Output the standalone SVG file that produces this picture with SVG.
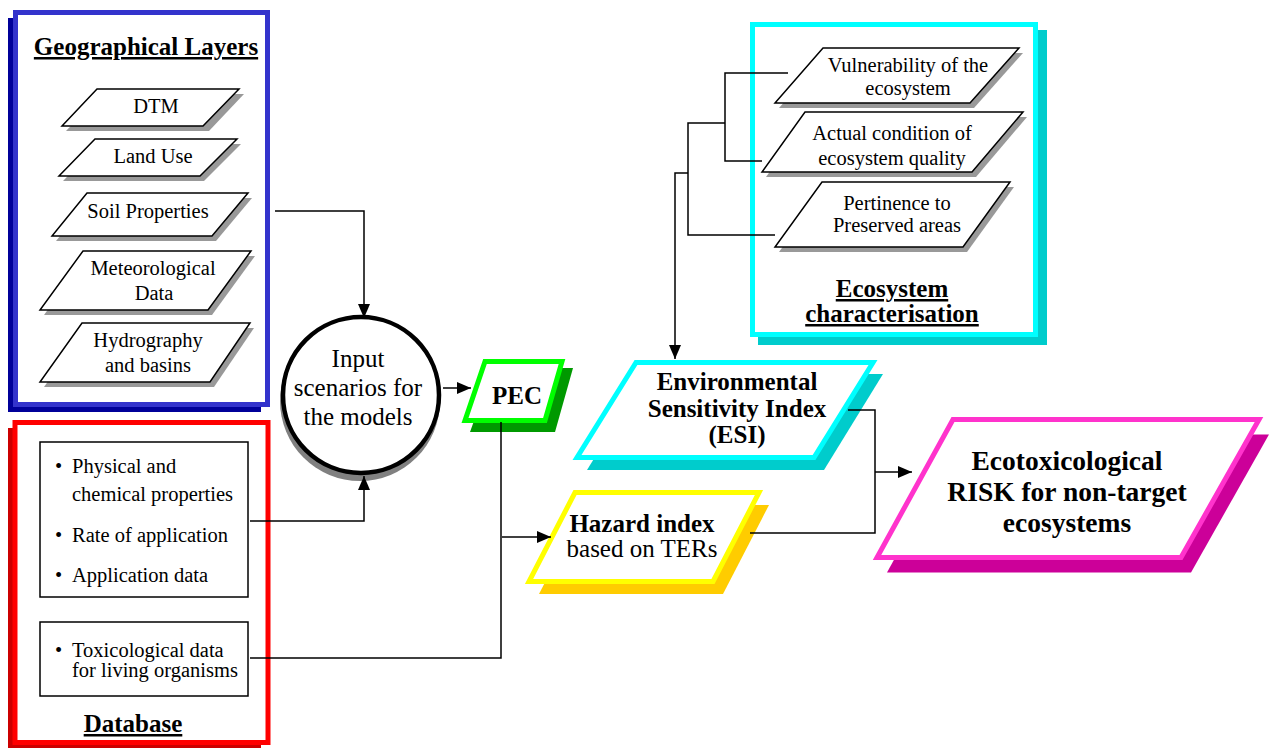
<svg xmlns="http://www.w3.org/2000/svg" width="1278" height="749" viewBox="0 0 1278 749">
<style>
.t{font-family:"Liberation Serif","Tinos","Times New Roman","DejaVu Serif",serif;fill:#000;text-anchor:middle}
.r{font-size:20.5px}
.b{font-weight:bold;font-size:25px}
.u{text-decoration:underline}
.thin{fill:#fff;stroke:#000;stroke-width:1.5}
.sh{fill:#999}
.ln{fill:none;stroke:#000;stroke-width:1.5}
</style>
<defs>
<marker id="ah" markerWidth="14" markerHeight="12" refX="14" refY="6" orient="auto" markerUnits="userSpaceOnUse"><path d="M0,0 L14,6 L0,12 z" fill="#000"/></marker>
</defs>
<rect width="1278" height="749" fill="#fff"/>

<g id="geo">
<rect x="8" y="18" width="253" height="394" fill="#000099"/>
<rect x="15.5" y="12.5" width="252" height="392" fill="#fff" stroke="#3333cc" stroke-width="5"/>
<text class="t b u" x="146" y="55">Geographical Layers</text>
<g id="dtm"><polygon class="sh" points="101,94 244,94 209,131 66,131"/><polygon class="thin" points="97,89 239,89 203,126 62,126"/><text class="t r" x="156" y="113">DTM</text></g>
<g id="landuse"><polygon class="sh" points="99,144 241,144 204,181 63,181"/><polygon class="thin" points="95,139 237,139 200,176 59,176"/><text class="t r" x="153" y="163">Land Use</text></g>
<g id="soil"><polygon class="sh" points="91,198 252,198 216,241 56,241"/><polygon class="thin" points="87,193 248,193 212,236 52,236"/><text class="t r" x="148" y="218">Soil Properties</text></g>
<g id="meteo"><polygon class="sh" points="87,256 255,256 212,315 44,315"/><polygon class="thin" points="83,251 251,251 208,310 40,310"/><text class="t r" x="153" y="275">Meteorological</text><text class="t r" x="154" y="300">Data</text></g>
<g id="hydro"><polygon class="sh" points="86,328 254,328 214,387 44,387"/><polygon class="thin" points="82,323 250,323 210,382 40,382"/><text class="t r" x="148" y="347">Hydrography</text><text class="t r" x="148" y="372">and basins</text></g>
</g>

<g id="database">
<rect x="8" y="428" width="253" height="320" fill="#cc0000"/>
<rect x="15" y="422.5" width="253" height="320" fill="#fff" stroke="#ff0000" stroke-width="5"/>
<rect x="40" y="442" width="208" height="155" fill="#fff" stroke="#000" stroke-width="1.5"/>
<g class="t r" style="text-anchor:start">
<text x="55" y="473">•</text><text x="72" y="473">Physical and</text>
<text x="72" y="501">chemical properties</text>
<text x="55" y="542">•</text><text x="72" y="542">Rate of application</text>
<text x="55" y="582">•</text><text x="72" y="582">Application data</text>
</g>
<rect x="40" y="622" width="208" height="74" fill="#fff" stroke="#000" stroke-width="1.5"/>
<g class="t r" style="text-anchor:start">
<text x="55" y="657">•</text><text x="72" y="657">Toxicological data</text>
<text x="72" y="677">for living organisms</text>
</g>
<text class="t b u" x="133" y="732">Database</text>
</g>

<g id="input">
<circle cx="360" cy="401" r="80" fill="#808080"/>
<circle cx="361" cy="395" r="78" fill="#fff" stroke="#000" stroke-width="4.5"/>
<text class="t" style="font-size:25px" x="358" y="367">Input</text>
<text class="t" style="font-size:25px" x="358" y="396">scenarios for</text>
<text class="t" style="font-size:25px" x="358" y="425">the models</text>
</g>

<g id="pec">
<polygon points="493,368 573,368 555,432 470,432" fill="#009900"/>
<polygon points="485,361.5 562,361.5 545,420.5 465,420.5" fill="#fff" stroke="#00ff00" stroke-width="5"/>
<text class="t b" x="517" y="404">PEC</text>
</g>

<g id="eco">
<rect x="758" y="30" width="289" height="315" fill="#00cccc"/>
<rect x="752.5" y="24.5" width="283" height="310" fill="#fff" stroke="#00ffff" stroke-width="5"/>
<g id="vuln"><polygon class="sh" points="827,53 1023,53 974,108 779,108"/><polygon class="thin" points="823,48 1019,48 970,103 775,103"/><text class="t r" x="908" y="72">Vulnerability of the</text><text class="t r" x="908" y="95">ecosystem</text></g>
<g id="actual"><polygon class="sh" points="809,117 1027,117 976,177 766,177"/><polygon class="thin" points="805,112 1023,112 972,172 762,172"/><text class="t r" x="892" y="140">Actual condition of</text><text class="t r" x="892" y="165">ecosystem quality</text></g>
<g id="pert"><polygon class="sh" points="826,187 1014,187 967,252 779,252"/><polygon class="thin" points="822,182 1010,182 963,247 775,247"/><text class="t r" x="897" y="210">Pertinence to</text><text class="t r" x="897" y="232">Preserved areas</text></g>
<text class="t b u" x="892" y="297">Ecosystem</text>
<text class="t b u" x="892" y="322">characterisation</text>
</g>

<g id="esi">
<polygon points="646,374 883,374 824,470 587,470" fill="#00cccc"/>
<polygon points="636,362.5 873,362.5 814,457.5 577,457.5" fill="#fff" stroke="#00ffff" stroke-width="5"/>
<text class="t b" x="737" y="390">Environmental</text>
<text class="t b" x="737" y="417">Sensitivity Index</text>
<text class="t b" x="737" y="443">(ESI)</text>
</g>

<g id="hazard">
<polygon points="585,505 769,505 723,594 539,594" fill="#ffcc00"/>
<polygon points="575,492.5 759,492.5 713,581.5 529,581.5" fill="#fff" stroke="#ffff00" stroke-width="5"/>
<text class="t b" x="642" y="532">Hazard index</text>
<text class="t" style="font-size:25px" x="642" y="557">based on TERs</text>
</g>

<g id="risk">
<polygon points="963,434.5 1269,434.5 1191,572.5 887,572.5" fill="#cc0099"/>
<polygon points="953,419.5 1259,419.5 1181,557.5 877,557.5" fill="#fff" stroke="#ff33cc" stroke-width="5"/>
<text class="t b" style="font-size:27.5px" x="1067" y="470">Ecotoxicological</text>
<text class="t b" style="font-size:27.5px" x="1067" y="501">RISK for non-target</text>
<text class="t b" style="font-size:27.5px" x="1067" y="532">ecosystems</text>
</g>

<g id="connectors">
<path class="ln" d="M275,211 H364 V318" marker-end="url(#ah)"/>
<path class="ln" d="M250,521 H364 V476" marker-end="url(#ah)"/>
<path class="ln" d="M443,388 H471" marker-end="url(#ah)"/>
<path class="ln" d="M501,422 V658 H250"/>
<path class="ln" d="M502,537 H551" marker-end="url(#ah)"/>
<path class="ln" d="M788,73 H725 V161 H762"/>
<path class="ln" d="M725,123 H688 V235 H775"/>
<path class="ln" d="M688,173 H675 V359" marker-end="url(#ah)"/>
<path class="ln" d="M848,410 H875 V533 H750"/>
<path class="ln" d="M875,472 H912" marker-end="url(#ah)"/>
</g>
</svg>
